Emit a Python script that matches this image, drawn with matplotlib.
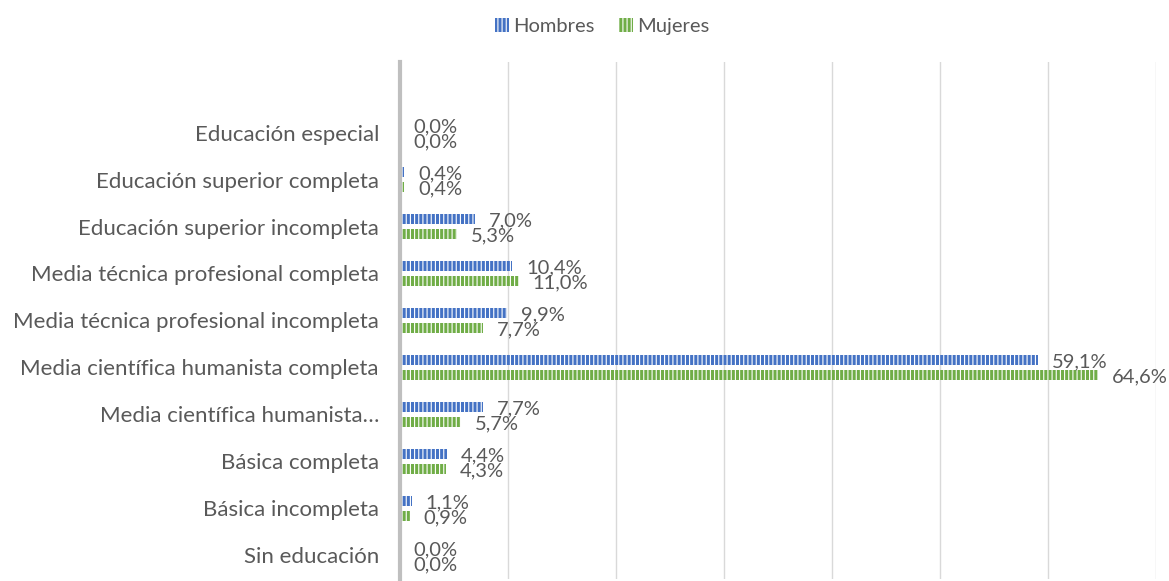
import numpy as np
import matplotlib.pyplot as plt

# =========================
# Data (bottom to top)
# =========================

categories = [
    "Sin educación",
    "Básica incompleta",
    "Básica completa",
    "Media científica humanista…",
    "Media científica humanista completa",
    "Media técnica profesional incompleta",
    "Media técnica profesional completa",
    "Educación superior incompleta",
    "Educación superior completa",
    "Educación especial",
]
hombres = [0.0, 1.1, 4.4, 7.7, 59.1, 9.9, 10.4, 7.0, 0.4, 0.0]
mujeres = [0.0, 0.9, 4.3, 5.7, 64.6, 7.7, 11.0, 5.3, 0.4, 0.0]

# =========================
# Style
# =========================

plt.rcParams["font.family"] = ["Lato", "DejaVu Sans"]
plt.rcParams["hatch.linewidth"] = 0.8
text_color = "#595959"
blue = "#4472C4"
green = "#70AD47"

fig = plt.figure(figsize=(11.69, 5.81), dpi=100)
ax = fig.add_axes([0.342, 0.004, 0.647, 0.889])

y = np.arange(len(categories))
offset = 0.16
height = 0.21

ax.barh(y + offset, hombres, height=height, color=blue, hatch="||||",
        edgecolor="white", linewidth=0, label="Hombres")
ax.barh(y - offset, mujeres, height=height, color=green, hatch="||||",
        edgecolor="white", linewidth=0, label="Mujeres")

# data labels
for yi, h, m in zip(y, hombres, mujeres):
    ax.annotate(f"{h:.1f}%".replace(".", ","), (h, yi + offset),
                xytext=(10, -1.5), textcoords="offset points",
                va="center", ha="left", fontsize=14.5, color=text_color)
    ax.annotate(f"{m:.1f}%".replace(".", ","), (m, yi - offset),
                xytext=(10, -1.5), textcoords="offset points",
                va="center", ha="left", fontsize=14.5, color=text_color)

ax.set_xlim(0, 70)
ax.set_ylim(-0.5, len(categories) + 0.5)
ax.set_xticks(np.arange(10, 71, 10))
ax.set_xticklabels([])
ax.tick_params(axis="x", length=0)
ax.grid(axis="x", color="#D9D9D9", linewidth=1)
ax.set_axisbelow(True)

ax.set_yticks(y)
ax.set_yticklabels(categories, fontsize=16, color=text_color)
ax.tick_params(axis="y", length=0, pad=15)

for side in ["top", "right", "bottom"]:
    ax.spines[side].set_visible(False)
ax.spines["left"].set_color("#BFBFBF")
ax.spines["left"].set_linewidth(3)

fig.legend(loc="upper center", bbox_to_anchor=(0.515, 1.0), ncol=2,
           frameon=False, fontsize=14.5, labelcolor=text_color,
           handlelength=0.7, handleheight=0.7, handletextpad=0.2,
           columnspacing=1.2)

plt.savefig("out.png", dpi=100)
